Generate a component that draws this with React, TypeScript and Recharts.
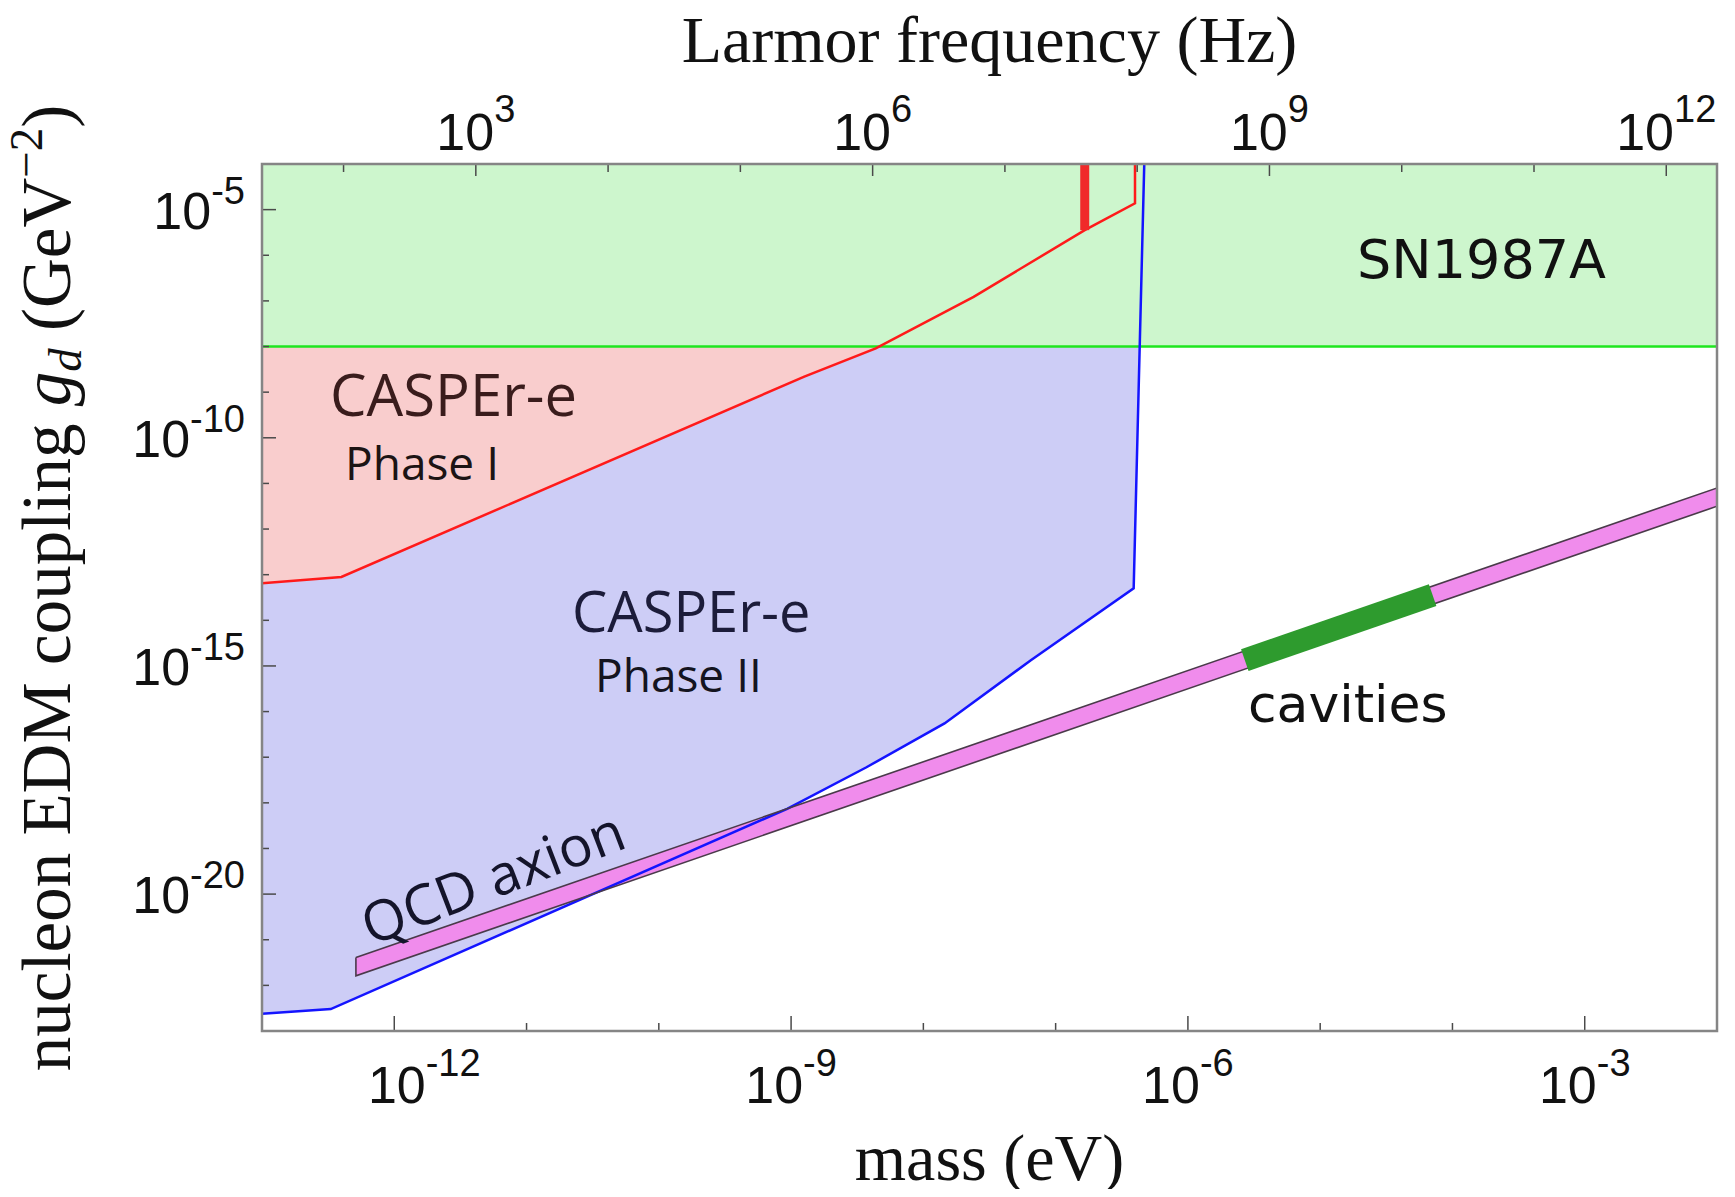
import React from "react";
import { ComposedChart, Area, Line, XAxis, YAxis } from "recharts";

// All values are log10: mass in eV, coupling g_d in GeV^-2.
const MASS_DOMAIN: [number, number] = [-13, -2];
const COUPLING_DOMAIN: [number, number] = [-23, -4];
const EV_TO_HZ = 14.3835; // log10 of (1 eV / h) in Hz

// CASPEr-e phase I reach
const phase1Mass = [-13, -12.4, -8.9, -8.36, -7.62, -6.78, -6.4, -6.4];
const phase1Coupling = [-13.19, -13.05, -8.66, -8.04, -6.91, -5.45, -4.86, -4];

// CASPEr-e phase II reach
const phase2Mass = [-13, -12.48, -9.03, -8.43, -7.84, -7.19, -6.41, -6.33];
const phase2Coupling = [-22.62, -22.52, -18.13, -17.22, -16.26, -14.88, -13.3, -4];

// SN1987A bound
const snMass = [-13, -2];
const snCoupling = -8;

// short thick red limit
const nmrMass = [-6.78, -6.78];
const nmrCoupling = [-5.45, -4];

// QCD axion band
const qcdMass = [-12.29, -2];
const qcdLow = [-21.79, -11.5];
const qcdHigh = [-21.39, -11.1];

// cavity searches, drawn along the band centre
const cavityMass = [-5.57, -4.15];
const cavityCoupling = [-14.87, -13.45];

// ticks
const massTicks = [-12, -11, -10, -9, -8, -7, -6, -5, -4, -3];
const massLabels = [-12, -9, -6, -3];
const couplingTicks = [-22, -21, -20, -19, -18, -17, -16, -15, -14, -13, -12, -11, -10, -9, -8, -7, -6, -5];
const couplingLabels = [-20, -15, -10, -5];
const freqTicks = [2, 3, 4, 5, 6, 7, 8, 9, 10, 11, 12];
const freqLabels = [3, 6, 9, 12];

const W = 1719;
const H = 1181;
const LEFT = 254;
const TOP = 156;
const RIGHT_PAD = 10;
const BOTTOM_AXIS = 158;
const PLOT_W = W - LEFT - RIGHT_PAD;
const PLOT_H = H - TOP - BOTTOM_AXIS;
const PAD = 8; // overlay reaches into the page margin

const SANS = "'Liberation Sans', Arial, sans-serif";
const SERIF = "'Liberation Serif', 'DejaVu Serif', serif";
const LABEL = "'Open Sans', 'Noto Sans', sans-serif";
const VERDANA = "'DejaVu Sans', Verdana, sans-serif";
const TICK = "#4a4a4a";

const points = (xs: number[], ys: number[]) => xs.map((x, i) => ({ x, y: ys[i] }));
const band = (xs: number[], lo: number[], hi: number[]) =>
  xs.map((x, i) => ({ x, y: [lo[i], hi[i]] }));

const phase1Line = points(phase1Mass, phase1Coupling);
const phase2Line = points(phase2Mass, phase2Coupling);
const phase1Fill = band(phase1Mass, phase1Coupling, phase1Mass.map(() => COUPLING_DOMAIN[1]));
const phase2Fill = band(phase2Mass, phase2Coupling, phase2Mass.map(() => COUPLING_DOMAIN[1]));
const snFill = band(snMass, snMass.map(() => snCoupling), snMass.map(() => COUPLING_DOMAIN[1]));
const snLine = points(snMass, snMass.map(() => snCoupling));
const nmrLine = points(nmrMass, nmrCoupling);
const qcdFill = band(qcdMass, qcdLow, qcdHigh);
const qcdOutline = [
  { x: qcdMass[0], y: qcdHigh[0] },
  { x: qcdMass[1], y: qcdHigh[1] },
  { x: qcdMass[1], y: qcdLow[1] },
  { x: qcdMass[0], y: qcdLow[0] },
  { x: qcdMass[0], y: qcdHigh[0] },
];
const cavityLine = points(cavityMass, cavityCoupling);

function MassTick(props: any) {
  const { x, y, payload } = props;
  const v = payload.value as number;
  const major = massLabels.includes(v);
  // the leftmost label sits a little to the right so it clears the y labels
  const shift = v === -12 ? 30 : 0;
  return (
    <g>
      <line x1={x} x2={x} y1={y} y2={y - (major ? 15 : 8)} stroke={TICK} strokeWidth={1.5} />
      {major && (
        <text x={x + shift} y={y + 72} textAnchor="middle" fontFamily={SANS} fontSize={52} fill="#111">
          10
          <tspan fontSize={38} dy={-27}>
            {String(v)}
          </tspan>
        </text>
      )}
    </g>
  );
}

function FreqTick(props: any) {
  const { x, y, payload } = props;
  const n = Math.round((payload.value as number) + EV_TO_HZ);
  const major = freqLabels.includes(n);
  return (
    <g>
      <line x1={x} x2={x} y1={y} y2={y + (major ? 12 : 8)} stroke={TICK} strokeWidth={1.5} />
      {major && (
        <text x={x} y={y - 14} textAnchor="middle" fontFamily={SANS} fontSize={52} fill="#111">
          10
          <tspan fontSize={38} dy={-28}>
            {String(n)}
          </tspan>
        </text>
      )}
    </g>
  );
}

function CouplingTick(props: any) {
  const { x, y, payload } = props;
  const v = payload.value as number;
  const major = couplingLabels.includes(v);
  return (
    <g>
      <line x1={x} x2={x + (major ? 14 : 7)} y1={y} y2={y} stroke={TICK} strokeWidth={1.5} />
      {major && (
        <text x={x - 17} y={y + 19} textAnchor="end" fontFamily={SANS} fontSize={52} fill="#111">
          10
          <tspan fontSize={38} dy={-25}>
            {String(v)}
          </tspan>
        </text>
      )}
    </g>
  );
}

function Annotations() {
  return (
    <svg
      width={W + 2 * PAD}
      height={H + 2 * PAD}
      style={{ position: "absolute", left: -PAD, top: -PAD, pointerEvents: "none" }}
    >
      <g transform={`translate(${PAD}, ${PAD})`}>
        <rect x={LEFT} y={TOP} width={PLOT_W} height={PLOT_H} fill="none" stroke="#858585" strokeWidth={2.5} />

        <text x={LEFT + PLOT_W / 2} y={54} textAnchor="middle" fontFamily={SERIF} fontSize={66} fill="#111">
          Larmor frequency (Hz)
        </text>
        <text x={LEFT + PLOT_W / 2} y={1172} textAnchor="middle" fontFamily={SERIF} fontSize={66} fill="#111">
          mass (eV)
        </text>
        <text
          transform="translate(62, 580) rotate(-90)"
          textAnchor="middle"
          fontFamily={SERIF}
          fontSize={69}
          fill="#111"
        >
          nucleon EDM coupling{" "}
          <tspan fontStyle="italic">g</tspan>
          <tspan fontStyle="italic" fontSize={47} dy={11}>
            d
          </tspan>
          <tspan dy={-11}> (GeV</tspan>
          <tspan fontSize={47} dy={-28}>
            −2
          </tspan>
          <tspan dy={28}>)</tspan>
        </text>

        <text x={322} y={408} fontFamily={LABEL} fontSize={58} fill="#3a1c1c">
          CASPEr-e
        </text>
        <text x={337} y={472} fontFamily={LABEL} fontSize={46} fill="#1c1414">
          Phase I
        </text>
        <text x={564} y={624} fontFamily={LABEL} fontSize={56} fill="#1c1c3a">
          CASPEr-e
        </text>
        <text x={587} y={684} fontFamily={LABEL} fontSize={46} fill="#141420">
          Phase II
        </text>
        <text
          transform="translate(484, 868) rotate(-21)"
          textAnchor="middle"
          dominantBaseline="central"
          fontFamily={LABEL}
          fontSize={56}
          fill="#14142a"
        >
          QCD axion
        </text>
        <text x={1349} y={270} fontFamily={VERDANA} fontSize={54} fill="#111">
          SN1987A
        </text>
        <text x={1240} y={714} fontFamily={VERDANA} fontSize={52} fill="#111">
          cavities
        </text>
      </g>
    </svg>
  );
}

export default function App() {
  return (
    <div style={{ position: "relative", width: W, height: H, background: "#fff" }}>
      <ComposedChart width={W} height={H} margin={{ top: 0, right: RIGHT_PAD, bottom: 0, left: 0 }}>
        <XAxis
          xAxisId="mass"
          type="number"
          dataKey="x"
          domain={MASS_DOMAIN}
          allowDataOverflow
          ticks={massTicks}
          interval={0}
          height={BOTTOM_AXIS}
          axisLine={false}
          tickLine={false}
          tickSize={0}
          tickMargin={0}
          tick={<MassTick />}
        />
        <XAxis
          xAxisId="freq"
          orientation="top"
          type="number"
          dataKey="x"
          domain={MASS_DOMAIN}
          allowDataOverflow
          ticks={freqTicks.map((n) => n - EV_TO_HZ)}
          interval={0}
          height={TOP}
          axisLine={false}
          tickLine={false}
          tickSize={0}
          tickMargin={0}
          tick={<FreqTick />}
        />
        <YAxis
          type="number"
          dataKey="y"
          domain={COUPLING_DOMAIN}
          allowDataOverflow
          ticks={couplingTicks}
          interval={0}
          width={LEFT}
          axisLine={false}
          tickLine={false}
          tickSize={0}
          tickMargin={0}
          tick={<CouplingTick />}
        />

        <Area xAxisId="mass" data={phase2Fill} dataKey="y" type="linear" fill="#cdcdf6" fillOpacity={1} stroke="none" isAnimationActive={false} />
        <Area xAxisId="mass" data={phase1Fill} dataKey="y" type="linear" fill="#f9cdcd" fillOpacity={1} stroke="none" isAnimationActive={false} />
        <Area xAxisId="mass" data={snFill} dataKey="y" type="linear" fill="#cdf6cd" fillOpacity={1} stroke="none" isAnimationActive={false} />
        <Area xAxisId="mass" data={qcdFill} dataKey="y" type="linear" fill="#f08cec" fillOpacity={1} stroke="none" isAnimationActive={false} />

        <Line xAxisId="mass" data={snLine} dataKey="y" type="linear" stroke="#1ee61e" strokeWidth={2.5} dot={false} activeDot={false} isAnimationActive={false} />
        <Line xAxisId="mass" data={phase1Line} dataKey="y" type="linear" stroke="#ff1a1a" strokeWidth={2.5} dot={false} activeDot={false} isAnimationActive={false} />
        <Line xAxisId="mass" data={nmrLine} dataKey="y" type="linear" stroke="#f02a2a" strokeWidth={9} dot={false} activeDot={false} isAnimationActive={false} />
        <Line xAxisId="mass" data={phase2Line} dataKey="y" type="linear" stroke="#1414ff" strokeWidth={2.5} dot={false} activeDot={false} isAnimationActive={false} />
        <Line xAxisId="mass" data={qcdOutline} dataKey="y" type="linear" stroke="#4a3a4a" strokeWidth={1.6} dot={false} activeDot={false} isAnimationActive={false} />
        <Line xAxisId="mass" data={cavityLine} dataKey="y" type="linear" stroke="#2e9b2e" strokeWidth={23} strokeLinecap="butt" dot={false} activeDot={false} isAnimationActive={false} />
      </ComposedChart>
      <Annotations />
    </div>
  );
}
